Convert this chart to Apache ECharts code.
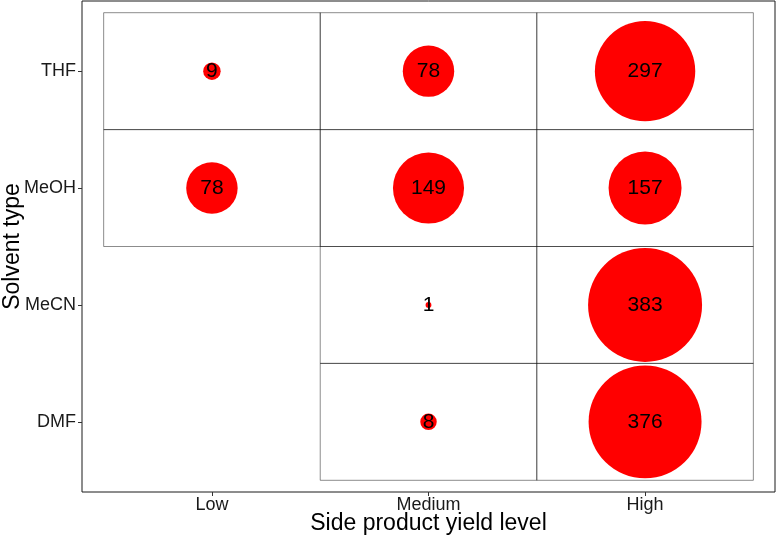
<!DOCTYPE html>
<html>
<head>
<meta charset="utf-8">
<script src="https://cdn.jsdelivr.net/npm/echarts@6/dist/echarts.min.js"></script>
<style>
  html, body { margin: 0; padding: 0; background: #fff; }
  #chart { width: 776px; height: 538px; }
</style>
</head>
<body>
<div id="chart"></div>
<script>
const yieldLevels = ['Low', 'Medium', 'High']
const solvents = ['THF', 'MeOH', 'MeCN', 'DMF']
// counts per solvent (THF, MeOH, MeCN, DMF); null = no cell
const lowCounts = [9, 78, null, null]
const mediumCounts = [78, 149, 1, 8]
const highCounts = [297, 157, 383, 376]

const columns = [lowCounts, mediumCounts, highCounts]
const points = []
columns.forEach((col, xi) => {
  col.forEach((v, yi) => {
    if (v !== null && v !== undefined) points.push([xi, yi, v])
  })
})
const maxCount = Math.max(...points.map(p => p[2]))

const font = '"Liberation Sans", Arial, sans-serif'
const chart = echarts.init(document.getElementById('chart'))
chart.setOption({
  backgroundColor: '#fff',
  animation: false,
  textStyle: { fontFamily: font },
  grid: {
    left: 82, right: 1, top: 1, bottom: 46,
    outerBoundsMode: 'none',
    show: true, borderColor: '#1a1a1a', borderWidth: 1, backgroundColor: '#fff'
  },
  xAxis: {
    type: 'value', min: -0.6, max: 2.6,
    name: 'Side product yield level', nameLocation: 'middle', nameGap: 20, nameMoveOverlap: false,
    nameTextStyle: { fontSize: 23, color: '#000', fontFamily: font },
    axisLine: { show: false, onZero: false },
    splitLine: { show: false },
    axisTick: { show: true, length: 4, customValues: [0, 1, 2], lineStyle: { color: '#333' } },
    axisLabel: {
      customValues: [0, 1, 2], margin: 4, fontSize: 18, color: '#1a1a1a', fontFamily: font,
      formatter: v => yieldLevels[Math.round(v)]
    }
  },
  yAxis: {
    type: 'value', min: -0.6, max: 3.6, inverse: true,
    name: 'Solvent type', nameLocation: 'middle', nameGap: 58, nameMoveOverlap: false,
    nameTextStyle: { fontSize: 23, color: '#000', fontFamily: font },
    axisLine: { show: false, onZero: false },
    splitLine: { show: false },
    axisTick: { show: true, length: 4, customValues: [0, 1, 2, 3], lineStyle: { color: '#333' } },
    axisLabel: {
      customValues: [0, 1, 2, 3], margin: 6, fontSize: 18, color: '#1a1a1a', fontFamily: font,
      formatter: v => solvents[Math.round(v)]
    }
  },
  series: [
    {
      type: 'custom',
      data: points.map(p => p.slice()),
      silent: true,
      renderItem: (params, api) => {
        const x = api.value(0), y = api.value(1)
        const a = api.coord([x - 0.5, y - 0.5])
        const b = api.coord([x + 0.5, y + 0.5])
        return {
          type: 'rect',
          shape: {
            x: Math.min(a[0], b[0]), y: Math.min(a[1], b[1]),
            width: Math.abs(b[0] - a[0]), height: Math.abs(b[1] - a[1])
          },
          style: { fill: 'none', stroke: 'rgba(0,0,0,0.45)', lineWidth: 1 }
        }
      },
      z: 1
    },
    {
      type: 'scatter',
      data: points.map(p => p.slice()),
      symbol: 'circle',
      symbolSize: d => 114 * Math.sqrt(d[2] / maxCount),
      itemStyle: { color: '#ff0000', opacity: 1 },
      label: {
        show: true, position: 'inside', fontSize: 21, color: '#000', fontFamily: font,
        formatter: p => String(p.value[2])
      },
      z: 2
    }
  ]
})
</script>
</body>
</html>
